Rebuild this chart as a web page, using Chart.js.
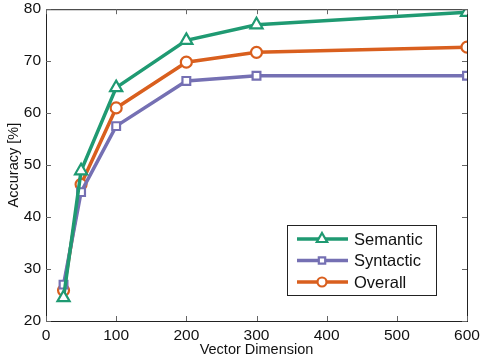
<!DOCTYPE html>
<html lang="en">
<head>
  <meta charset="UTF-8">
  <title>Accuracy vs Vector Dimension</title>
  <script src="https://cdn.jsdelivr.net/npm/chart.js"></script>
  <style>
    html, body {
      margin: 0;
      padding: 0;
      background: #fff;
    }
    .chart-container {
      width: 486px;
      height: 359px;
      position: relative;
    }
  </style>
</head>
<body>
  <div class="chart-container">
    <canvas id="lineChart"></canvas>
  </div>

  <script>
    const dimensions = [25, 50, 100, 200, 300, 600];
    const semantic = [24.5, 48.9, 64.9, 74.0, 77.0, 79.4];
    const syntactic = [27.0, 44.8, 57.5, 66.2, 67.2, 67.2];
    const overall = [25.9, 46.3, 61.0, 69.8, 71.7, 72.7];
    const xTicks = [0, 100, 200, 300, 400, 500, 600];
    const yTicks = [20, 30, 40, 50, 60, 70, 80];

    const FONT = "'Liberation Sans', Arial, sans-serif";
    const INK = '#222';

    function makeSeries(label, values, color, marker) {
      return {
        label: label,
        data: dimensions.map((d, i) => ({ x: d, y: values[i] })),
        borderColor: color,
        backgroundColor: '#fff',
        borderWidth: 3.5,
        pointStyle: marker,
        pointRadius: marker === 'triangle' ? 7 : 5.5,
        pointBorderWidth: 2.2,
        pointBackgroundColor: '#fff',
        pointBorderColor: color,
        tension: 0
      };
    }

    // box around the plot with inward tick marks on every side
    const boxPlugin = {
      id: 'box',
      afterDraw(chart) {
        const { ctx, chartArea: a, scales } = chart;
        ctx.save();
        ctx.strokeStyle = INK;
        ctx.lineWidth = 1;
        ctx.strokeRect(a.left + 0.5, a.top + 0.5, a.right - a.left, a.bottom - a.top);
        ctx.strokeStyle = '#666';
        ctx.beginPath();
        xTicks.forEach(t => {
          const px = Math.round(scales.x.getPixelForValue(t)) + 0.5;
          ctx.moveTo(px, a.bottom); ctx.lineTo(px, a.bottom - 5);
          ctx.moveTo(px, a.top); ctx.lineTo(px, a.top + 5);
        });
        yTicks.forEach(t => {
          const py = Math.round(scales.y.getPixelForValue(t)) + 0.5;
          ctx.moveTo(a.left, py); ctx.lineTo(a.left + 5, py);
          ctx.moveTo(a.right, py); ctx.lineTo(a.right - 5, py);
        });
        ctx.stroke();
        ctx.restore();
      }
    };

    // legend box in the lower right of the plot
    const legendPlugin = {
      id: 'boxLegend',
      afterDraw(chart) {
        const ctx = chart.ctx;
        const x0 = 287, y0 = 225, w = 149, h = 70;
        ctx.save();
        ctx.fillStyle = '#fff';
        ctx.fillRect(x0, y0, w, h);
        ctx.strokeStyle = INK;
        ctx.lineWidth = 1;
        ctx.strokeRect(x0 + 0.5, y0 + 0.5, w, h);
        chart.data.datasets.forEach((ds, i) => {
          const y = y0 + 14 + i * 21.5;
          ctx.strokeStyle = ds.borderColor;
          ctx.lineWidth = ds.borderWidth;
          ctx.beginPath();
          ctx.moveTo(x0 + 10, y);
          ctx.lineTo(x0 + 61, y);
          ctx.stroke();
          ctx.lineWidth = ds.pointBorderWidth;
          ctx.fillStyle = '#fff';
          Chart.helpers.drawPoint(ctx, {
            pointStyle: ds.pointStyle,
            radius: ds.pointStyle === 'triangle' ? 6 : 4.5,
            borderWidth: ds.pointBorderWidth,
            rotation: 0
          }, x0 + 35, y);
          ctx.fillStyle = '#111';
          ctx.font = '16.5px ' + FONT;
          ctx.textBaseline = 'middle';
          ctx.textAlign = 'left';
          ctx.fillText(ds.label, x0 + 67, y + 1);
        });
        ctx.restore();
      }
    };

    const ctx = document.getElementById('lineChart').getContext('2d');
    new Chart(ctx, {
      type: 'line',
      data: {
        datasets: [
          makeSeries('Semantic', semantic, '#1f9a72', 'triangle'),
          makeSeries('Syntactic', syntactic, '#7570b3', 'rect'),
          makeSeries('Overall', overall, '#d95f1e', 'circle')
        ]
      },
      plugins: [boxPlugin, legendPlugin],
      options: {
        responsive: true,
        maintainAspectRatio: false,
        animation: false,
        layout: { padding: { top: 8, right: 19, left: 0, bottom: 0 } },
        plugins: {
          legend: { display: false },
          tooltip: { enabled: false }
        },
        scales: {
          x: {
            type: 'linear',
            min: 0,
            max: 600,
            afterBuildTicks: s => { s.ticks = xTicks.map(v => ({ value: v })); },
            afterFit: s => { s.height = 38; s.paddingLeft = 0; s.paddingRight = 0; },
            grid: { display: false, drawTicks: false },
            border: { display: false },
            ticks: {
              color: '#111',
              padding: 5,
              maxRotation: 0,
              font: { family: FONT, size: 15.5 }
            },
            title: {
              display: true,
              text: 'Vector Dimension',
              color: '#111',
              padding: { top: 0, bottom: 0 },
              font: { family: FONT, size: 14.5 }
            }
          },
          y: {
            min: 20,
            max: 80,
            afterBuildTicks: s => { s.ticks = yTicks.map(v => ({ value: v })); },
            afterFit: s => { s.width = 46; s.paddingTop = 0; s.paddingBottom = 0; },
            grid: { display: false, drawTicks: false },
            border: { display: false },
            ticks: {
              color: '#111',
              padding: 5,
              font: { family: FONT, size: 15.5 }
            },
            title: {
              display: true,
              text: 'Accuracy [%]',
              color: '#111',
              padding: { top: 5, bottom: 0 },
              font: { family: FONT, size: 14.5 }
            }
          }
        }
      }
    });
  </script>
</body>
</html>
